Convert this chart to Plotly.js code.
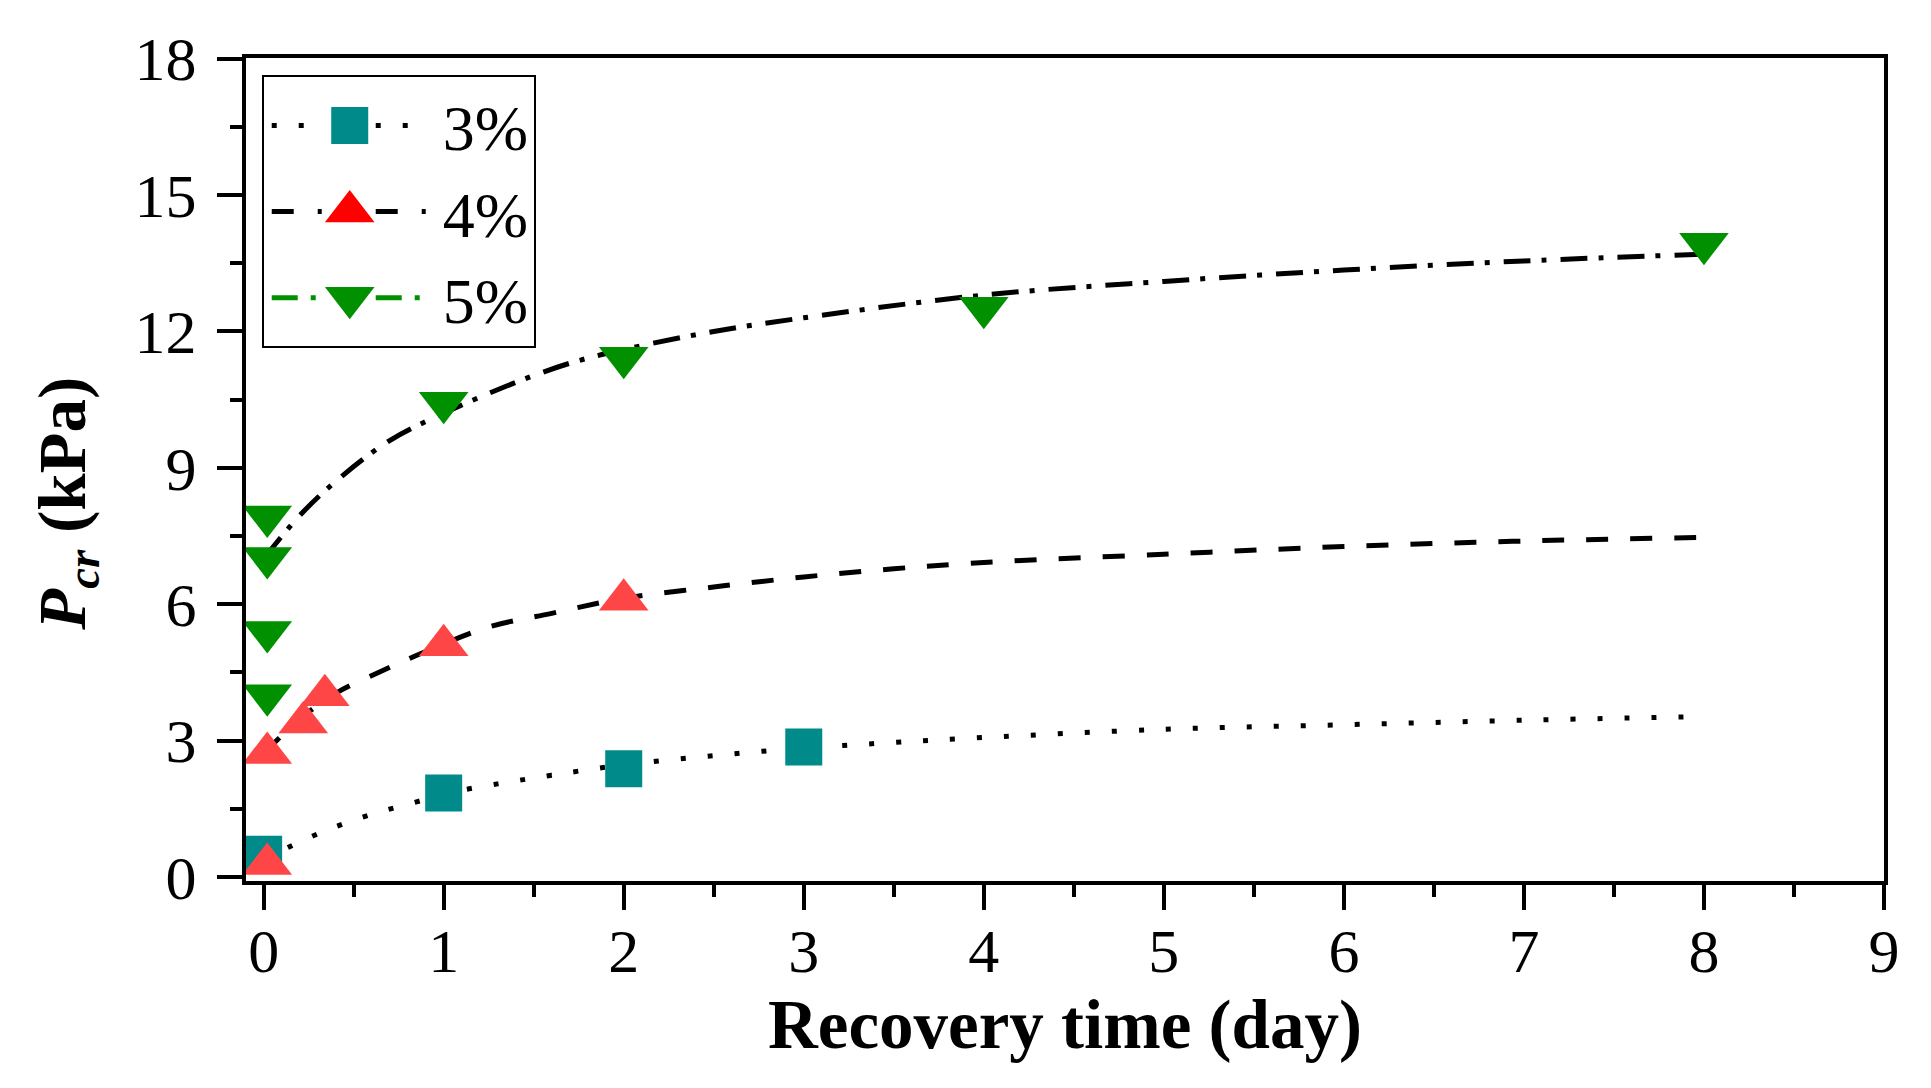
<!DOCTYPE html>
<html>
<head>
<meta charset="utf-8">
<script src="https://cdn.plot.ly/plotly-3.0.1.min.js"></script>
<style>
html, body { margin: 0; padding: 0; background: #ffffff; }
#chart { width: 1931px; height: 1088px; }
</style>
</head>
<body>
<div id="chart"></div>
<script>
// ---- data ----
var seriesNames = ['3%', '4%', '5%'];

// measured points (recovery time in days, Pcr in kPa)
var x3 = [0, 1, 2, 3];
var y3 = [0.5, 1.85, 2.38, 2.86];

var x4 = [0.02, 0.02, 0.22, 0.34, 1, 2];
var y4 = [0.29, 2.73, 3.40, 4.00, 5.10, 6.10];

var x5 = [0.02, 0.02, 0.02, 0.02, 1, 2, 4, 8];
var y5 = [7.93, 7.02, 5.39, 4.00, 10.43, 11.42, 12.52, 13.93];

// fitted curves
var fit3x = [0, 0.15, 0.3, 0.45, 0.6, 0.75, 0.9, 1, 1.3, 1.6, 2, 2.5, 3, 3.5, 4, 5, 6, 7, 8];
var fit3y = [0.38, 0.68, 0.95, 1.18, 1.38, 1.55, 1.71, 1.83, 2.05, 2.24, 2.47, 2.67, 2.84, 2.96, 3.07, 3.25, 3.35, 3.45, 3.53];

var fit4x = [0, 0.2, 0.4, 0.65, 0.9, 1.25, 1.6, 2, 2.5, 3, 3.5, 4, 5, 6, 7, 8];
var fit4y = [2.72, 3.47, 4.04, 4.52, 4.96, 5.50, 5.80, 6.13, 6.38, 6.60, 6.78, 6.92, 7.10, 7.27, 7.39, 7.47];

var fit5x = [0, 0.2, 0.4, 0.7, 1, 1.35, 1.7, 2, 2.5, 3, 4, 5, 6, 7, 8];
var fit5y = [7.00, 7.95, 8.70, 9.60, 10.20, 10.80, 11.30, 11.60, 12.00, 12.30, 12.80, 13.10, 13.35, 13.55, 13.70];

var xTickVals = [0, 1, 2, 3, 4, 5, 6, 7, 8, 9];
var yTickVals = [0, 3, 6, 9, 12, 15, 18];

// ---- styles ----
var FONT = 'Liberation Serif, Times New Roman, serif';
var teal = '#008B8B', red = '#FF4646', green = '#009000';

// isolate points so the legend can carry a line sample without joining markers
function isolate(arr) {
  var out = [];
  for (var i = 0; i < arr.length; i++) { if (i > 0) out.push(null); out.push(arr[i]); }
  return out;
}

var traces = [
  { x: fit3x, y: fit3y, mode: 'lines', line: { color: '#000', width: 5, dash: '5px,22px', shape: 'spline' }, showlegend: false, hoverinfo: 'skip' },
  { x: fit4x, y: fit4y, mode: 'lines', line: { color: '#000', width: 5, dash: '22px,22px', shape: 'spline' }, showlegend: false, hoverinfo: 'skip' },
  { x: fit5x, y: fit5y, mode: 'lines', line: { color: '#000', width: 5, dash: '27px,11px,5px,14px', shape: 'spline' }, showlegend: false, hoverinfo: 'skip' },
  { x: isolate(x3), y: isolate(y3), name: seriesNames[0], mode: 'lines+markers', connectgaps: false,
    line: { color: '#000', width: 5, dash: '5px,22px' },
    marker: { symbol: 'square', size: 37, color: teal, line: { width: 0 } } },
  { x: isolate(x4), y: isolate(y4), name: seriesNames[1], mode: 'lines+markers', connectgaps: false,
    line: { color: '#000', width: 5, dash: '22px,24px,4px,24px' },
    marker: { symbol: 'triangle-up', size: 43, color: red, line: { width: 0 } } },
  { x: isolate(x5), y: isolate(y5), name: seriesNames[2], mode: 'lines+markers', connectgaps: false,
    line: { color: green, width: 5, dash: '26px,13px,5px,13px' },
    marker: { symbol: 'triangle-down', size: 43, color: green, line: { width: 0 } } }
];

var axisCommon = {
  showline: true, linecolor: '#000', linewidth: 4, mirror: true,
  showgrid: false, zeroline: false,
  ticks: 'outside', ticklen: 25, tickwidth: 4, tickcolor: '#000',
  tickfont: { family: FONT, size: 62, color: '#000' }
};

var layout = {
  width: 1931, height: 1088,
  margin: { l: 246, r: 47, t: 58, b: 207 },
  paper_bgcolor: '#fff', plot_bgcolor: '#fff',
  font: { family: FONT, color: '#000' },
  showlegend: true,
  xaxis: Object.assign({}, axisCommon, {
    range: [-0.098, 9.0], tickmode: 'array', tickvals: xTickVals, ticktext: xTickVals.map(String),
    ticklabelstandoff: -12,
    minor: { dtick: 0.5, tick0: 0, ticks: 'outside', ticklen: 12, tickwidth: 4, tickcolor: '#000' },
    title: { text: '<b>Recovery time (day)</b>', font: { family: FONT, size: 69, color: '#000' }, standoff: 16 }
  }),
  yaxis: Object.assign({}, axisCommon, {
    range: [-0.086, 18.013], tickmode: 'array', tickvals: yTickVals, ticktext: yTickVals.map(String),
    ticklabelstandoff: 8,
    minor: { dtick: 1.5, tick0: 0, ticks: 'outside', ticklen: 12, tickwidth: 4, tickcolor: '#000' }
  }),
  legend: {
    x: 0.0096, y: 0.979, xanchor: 'left', yanchor: 'top',
    bgcolor: '#fff', bordercolor: '#000', borderwidth: 2,
    font: { family: FONT, size: 64, color: '#000' },
    itemwidth: 169, tracegroupgap: 0
  },
  annotations: [{
    xref: 'paper', yref: 'paper', x: -0.109, y: 0.459,
    xanchor: 'center', yanchor: 'middle', textangle: -90, showarrow: false,
    text: '<b><i>P</i></b><sub><b><i>cr</i></b></sub><b> (kPa)</b>',
    font: { family: FONT, size: 67, color: '#000' }
  }]
};

// legend key appearance (long line samples split around a large symbol, as in the reference)
var legendKeys = [
  { path: 'M8,0h54M112,0h40', fill: teal, scale: 37 / 16 },
  { path: 'M8,0h52M112,0h52', fill: '#FF0000', scale: 43 / 16 },
  { path: 'M8,0h46M112,0h46', fill: green, scale: 43 / 16 }
];

function styleLegend(gd) {
  var items = gd.querySelectorAll('.legend .traces');
  items.forEach(function (item, i) {
    var key = legendKeys[i];
    if (!key) return;
    var ln = item.querySelector('.legendlines path');
    if (ln) ln.setAttribute('d', key.path);
    item.querySelectorAll('.legendpoints path').forEach(function (p) {
      p.setAttribute('transform', 'translate(86,0) scale(' + key.scale + ')');
      p.style.fill = key.fill;
    });
  });
  // drop empty placeholder text nodes left by the library
  gd.querySelectorAll('text').forEach(function (t) {
    if (!t.textContent || !t.textContent.trim()) t.parentNode.removeChild(t);
  });
}

var gd = document.getElementById('chart');
Plotly.newPlot(gd, traces, layout, { displayModeBar: false, staticPlot: true }).then(function () {
  styleLegend(gd);
});
</script>
</body>
</html>
